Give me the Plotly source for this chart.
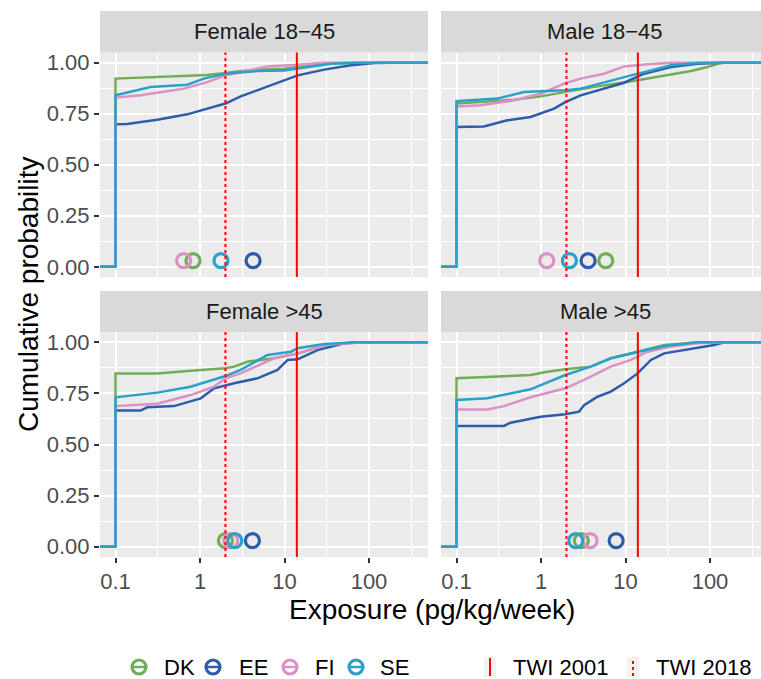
import numpy as np
import plotly.graph_objects as go

W, H = 761, 679

COUNTRIES = ["DK", "EE", "FI", "SE"]
COLORS = ["#70AD57", "#2C5CAA", "#DB91C4", "#2BA0C8"]
FACETS = ["Female 18\u221245", "Male 18\u221245", "Female >45", "Male >45"]
TWI_VALUES = [14, 2]
TWI_LABELS = ["TWI 2001", "TWI 2018"]
X_TICKS = [0.1, 1, 10, 100]
X_TICK_TEXT = ["0.1", "1", "10", "100"]
Y_TICKS = [0, 0.25, 0.5, 0.75, 1.0]
Y_TICK_TEXT = ["0.00", "0.25", "0.50", "0.75", "1.00"]
MEAN_Y = 0.03

# ---- ECDF knots (exposure, cumulative probability) ----
# Female 18-45
f1845_dk_x = [0.1, 0.217, 0.645, 1.22, 2.0, 3.03, 5.74, 9.9, 14.3, 29.5, 73]
f1845_dk_p = [0.922, 0.927, 0.933, 0.94, 0.95, 0.959, 0.967, 0.97, 0.979, 0.995, 1.0]
f1845_ee_x = [0.1, 0.137, 0.312, 0.708, 1.22, 2.0, 3.03, 4.78, 7.5, 14.3, 29.5, 61, 116, 183]
f1845_ee_p = [0.698, 0.70, 0.72, 0.747, 0.775, 0.80, 0.835, 0.865, 0.897, 0.938, 0.966, 0.987, 0.998, 1.0]
f1845_fi_x = [0.1, 0.198, 0.645, 1.22, 2.0, 3.64, 6.29, 14.3, 29.5]
f1845_fi_p = [0.829, 0.84, 0.873, 0.905, 0.938, 0.962, 0.982, 0.99, 1.0]
f1845_se_x = [0.1, 0.26, 0.708, 1.11, 2.0, 4.78, 9.9, 17.1, 35.4, 73]
f1845_se_p = [0.84, 0.881, 0.892, 0.922, 0.946, 0.959, 0.962, 0.975, 0.995, 1.0]
f1845_means = [0.826, 4.25, 0.64, 1.77]

# Male 18-45
m1845_dk_x = [0.1, 0.479, 0.99, 1.94, 4.66, 13.9, 28.7, 59.5, 93.8, 123, 148]
m1845_dk_p = [0.80, 0.819, 0.835, 0.856, 0.884, 0.914, 0.938, 0.959, 0.979, 0.995, 1.0]
m1845_ee_x = [0.1, 0.211, 0.4, 0.753, 1.43, 1.94, 2.95, 5.58, 9.64, 16.6, 34.5, 71.4, 135]
m1845_ee_p = [0.685, 0.688, 0.718, 0.734, 0.775, 0.807, 0.84, 0.873, 0.902, 0.946, 0.979, 0.995, 1.0]
m1845_fi_x = [0.1, 0.193, 0.479, 0.99, 1.94, 2.95, 5.58, 9.64, 18.2, 34.5]
m1845_fi_p = [0.786, 0.791, 0.816, 0.848, 0.90, 0.922, 0.946, 0.982, 0.992, 1.0]
m1845_se_x = [0.1, 0.303, 0.628, 1.94, 2.95, 5.58, 11.6, 20, 34.5, 71.4, 108]
m1845_se_p = [0.812, 0.824, 0.856, 0.865, 0.873, 0.905, 0.938, 0.962, 0.987, 0.998, 1.0]
m1845_means = [5.84, 3.61, 1.17, 2.17]

# Female >45
f45_dk_x = [0.1, 0.312, 0.774, 2.0, 2.53, 3.64, 7.5, 14.3, 29.5, 55.8, 73]
f45_dk_p = [0.848, 0.848, 0.861, 0.873, 0.881, 0.905, 0.922, 0.945, 0.985, 0.998, 1.0]
f45_ee_x = [0.1, 0.198, 0.237, 0.492, 1.02, 1.47, 2.53, 4.78, 8.26, 10.9, 14.3, 24.6, 51, 73]
f45_ee_p = [0.666, 0.666, 0.682, 0.688, 0.726, 0.775, 0.80, 0.824, 0.865, 0.914, 0.917, 0.962, 0.995, 1.0]
f45_fi_x = [0.1, 0.312, 0.774, 1.47, 2.0, 3.03, 7.5, 14.3, 29.5, 61, 88]
f45_fi_p = [0.688, 0.70, 0.742, 0.783, 0.824, 0.848, 0.922, 0.946, 0.987, 0.998, 1.0]
f45_se_x = [0.1, 0.312, 0.774, 2.0, 3.03, 6.29, 11.9, 14.3, 29.5, 73]
f45_se_p = [0.731, 0.754, 0.783, 0.835, 0.865, 0.938, 0.954, 0.971, 0.992, 1.0]
f45_means = [2.0, 4.17, 2.31, 2.58]

# Male >45
m45_dk_x = [0.1, 0.303, 0.753, 1.19, 1.94, 3.88, 6.7, 13.9, 28.7, 71.4]
m45_dk_p = [0.824, 0.832, 0.84, 0.856, 0.868, 0.881, 0.922, 0.954, 0.987, 1.0]
m45_ee_x = [0.1, 0.364, 0.437, 0.99, 1.94, 2.82, 3.24, 4.66, 6.7, 9.64, 13.9, 20, 28.7, 59.5, 112, 148]
m45_ee_p = [0.591, 0.591, 0.607, 0.636, 0.648, 0.661, 0.693, 0.734, 0.759, 0.80, 0.848, 0.914, 0.946, 0.966, 0.987, 1.0]
m45_fi_x = [0.1, 0.231, 0.364, 0.753, 1.94, 3.24, 6.7, 11.6, 18.2, 34.5, 71.4, 148]
m45_fi_p = [0.672, 0.672, 0.688, 0.731, 0.775, 0.816, 0.881, 0.914, 0.954, 0.979, 0.995, 1.0]
m45_se_x = [0.1, 0.231, 0.4, 0.753, 1.94, 3.88, 6.7, 13.9, 28.7, 71.4]
m45_se_p = [0.718, 0.726, 0.747, 0.77, 0.84, 0.881, 0.922, 0.951, 0.982, 1.0]
m45_means = [3.0, 7.75, 3.81, 2.58]

PANELS = [
    [(f1845_dk_x, f1845_dk_p), (f1845_ee_x, f1845_ee_p), (f1845_fi_x, f1845_fi_p), (f1845_se_x, f1845_se_p)],
    [(m1845_dk_x, m1845_dk_p), (m1845_ee_x, m1845_ee_p), (m1845_fi_x, m1845_fi_p), (m1845_se_x, m1845_se_p)],
    [(f45_dk_x, f45_dk_p), (f45_ee_x, f45_ee_p), (f45_fi_x, f45_fi_p), (f45_se_x, f45_se_p)],
    [(m45_dk_x, m45_dk_p), (m45_ee_x, m45_ee_p), (m45_fi_x, m45_fi_p), (m45_se_x, m45_se_p)],
]
MEANS = [f1845_means, m1845_means, f45_means, m45_means]

# ---------------- layout helpers (pixel -> paper) ----------------
def px(x):
    return x / W


def py(y):
    return 1 - y / H


FONT = "Liberation Sans"
TICK_SIZE = 22
STRIP_SIZE = 22
TITLE_SIZE = 28
LEGEND_SIZE = 22
DECADE = 84.5
X0PX = 115.5  # pixel of 0.1 within a panel offset
PANEL_L = [(100, 428), (441, 769)]
PANEL_T = [(52.5, 277), (332.1, 557)]
LOG_LO = -1 - (X0PX - 100) / DECADE
LOG_HI_FULL = -1 + (428 - X0PX) / DECADE

fig = go.Figure()

for i in range(4):
    col, row = i % 2, i // 2
    ax = "" if i == 0 else str(i + 1)
    xa, ya = "x" + ax, "y" + ax
    lo_pad, hi_pad = 10 ** (LOG_LO - 1), 10 ** (LOG_HI_FULL + 1)
    for k, (xs, ps) in enumerate(PANELS[i]):
        xx = [lo_pad, xs[0]] + list(xs) + [hi_pad]
        yy = [0, 0] + list(ps) + [1]
        fig.add_trace(go.Scatter(x=xx, y=yy, mode="lines", xaxis=xa, yaxis=ya,
                                 line=dict(color=COLORS[k], width=2.5), showlegend=False,
                                 hoverinfo="skip"))
    for k, m in enumerate(MEANS[i]):
        fig.add_trace(go.Scatter(x=[m], y=[MEAN_Y], mode="markers", xaxis=xa, yaxis=ya,
                                 marker=dict(symbol="circle-open", size=14, color=COLORS[k],
                                             line=dict(width=3.2, color=COLORS[k])),
                                 showlegend=False, hoverinfo="skip"))
    # TWI reference lines
    for v, dash in zip(TWI_VALUES, ["solid", "3px,3px"]):
        fig.add_shape(type="line", xref=xa, yref=ya + " domain",
                      x0=v, x1=v, y0=0, y1=1,
                      line=dict(color="#FF0000", width=2, dash=dash), layer="above")

    l, r = PANEL_L[col]
    t, b = PANEL_T[row]
    right_px = min(r, W)
    hi = -1 + (right_px - (l + (X0PX - 100))) / DECADE
    xdom = [px(l), px(right_px)]
    ydom = [py(b), py(t)]
    xaxis = dict(
        type="log", domain=xdom, range=[LOG_LO, hi], anchor=ya,
        tickmode="array", tickvals=X_TICKS, ticktext=X_TICK_TEXT,
        showgrid=True, gridcolor="white", gridwidth=2,
        minor=dict(tickmode="array", tickvals=[10 ** (e + 0.5) for e in range(-2, 3)],
                   showgrid=True, gridcolor="white", gridwidth=1, ticks=""),
        zeroline=False, showline=False,
        ticks="outside" if row == 1 else "", ticklen=5, tickwidth=2, tickcolor="#333333",
        showticklabels=(row == 1),
        tickfont=dict(family=FONT, size=TICK_SIZE, color="#4D4D4D"), automargin=False,
    )
    yaxis = dict(
        domain=ydom, range=[-0.05, 1.05], anchor=xa,
        tickmode="array", tickvals=Y_TICKS, ticktext=Y_TICK_TEXT,
        showgrid=True, gridcolor="white", gridwidth=2,
        minor=dict(tickmode="array", tickvals=[0.125, 0.375, 0.625, 0.875],
                   showgrid=True, gridcolor="white", gridwidth=1, ticks=""),
        zeroline=False, showline=False,
        ticks="outside" if col == 0 else "", ticklen=5, tickwidth=2, tickcolor="#333333",
        showticklabels=(col == 0),
        tickfont=dict(family=FONT, size=TICK_SIZE, color="#4D4D4D"), automargin=False,
    )
    fig.update_layout(**{"xaxis" + ax: xaxis, "yaxis" + ax: yaxis})

    # strip
    st_top = 11 if row == 0 else 291
    fig.add_shape(type="rect", xref="paper", yref="paper", x0=px(l), x1=px(right_px),
                  y0=py(t), y1=py(st_top), fillcolor="#D9D9D9", line=dict(width=0), layer="below")
    fig.add_annotation(xref="paper", yref="paper", x=px((l + r) / 2), y=py((st_top + t) / 2),
                       text=FACETS[i], showarrow=False, xanchor="center", yanchor="middle",
                       font=dict(family=FONT, size=STRIP_SIZE, color="#1A1A1A"))

# axis titles
fig.add_annotation(xref="paper", yref="paper", x=px(432), y=py(609), text="Exposure (pg/kg/week)",
                   showarrow=False, xanchor="center", yanchor="middle",
                   font=dict(family=FONT, size=TITLE_SIZE, color="black"))
fig.add_annotation(xref="paper", yref="paper", x=px(28), y=py(295), text="Cumulative probability",
                   showarrow=False, xanchor="center", yanchor="middle", textangle=-90,
                   font=dict(family=FONT, size=TITLE_SIZE, color="black"))

# manual legend
LEG_Y = 667
circle_x = [139, 213, 290, 356]
text_x = [162, 237, 313, 378]
for k in range(4):
    cx = circle_x[k]
    fig.add_shape(type="circle", xref="paper", yref="paper",
                  x0=px(cx - 7), x1=px(cx + 7), y0=py(LEG_Y + 7), y1=py(LEG_Y - 7),
                  line=dict(color=COLORS[k], width=3.2))
    fig.add_shape(type="line", xref="paper", yref="paper",
                  x0=px(cx - 7), x1=px(cx + 7), y0=py(LEG_Y), y1=py(LEG_Y),
                  line=dict(color=COLORS[k], width=2.5))
    fig.add_annotation(xref="paper", yref="paper", x=px(text_x[k]), y=py(LEG_Y),
                       text=COUNTRIES[k], showarrow=False, xanchor="left", yanchor="middle",
                       font=dict(family=FONT, size=LEGEND_SIZE, color="black"))
twi_key_x = [490, 633]
twi_text_x = [511, 654]
for k in range(2):
    kx = twi_key_x[k]
    fig.add_shape(type="rect", xref="paper", yref="paper", x0=px(kx - 6), x1=px(kx + 6),
                  y0=py(LEG_Y + 10), y1=py(LEG_Y - 10), fillcolor="#F2F2F2", line=dict(width=0))
    fig.add_shape(type="line", xref="paper", yref="paper", x0=px(kx), x1=px(kx),
                  y0=py(LEG_Y + 9), y1=py(LEG_Y - 9),
                  line=dict(color="#FF0000", width=2, dash="solid" if k == 0 else "3px,3px"))
    fig.add_annotation(xref="paper", yref="paper", x=px(twi_text_x[k]), y=py(LEG_Y),
                       text=TWI_LABELS[k], showarrow=False, xanchor="left", yanchor="middle",
                       font=dict(family=FONT, size=LEGEND_SIZE, color="black"))

fig.update_layout(
    template="none", width=W, height=H,
    margin=dict(l=0, r=0, t=0, b=0),
    paper_bgcolor="white", plot_bgcolor="#EBEBEB",
    showlegend=False, font=dict(family=FONT),
)

fig.write_html("out.html", config={"displayModeBar": False, "staticPlot": True},
               post_script="document.body.style.margin='0';document.body.style.padding='0';"
                           "document.body.style.overflow='hidden';")
